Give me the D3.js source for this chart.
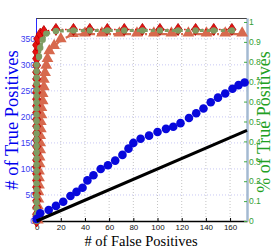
<!DOCTYPE html>
<html>
<head>
<meta charset="utf-8">
<script src="https://cdn.jsdelivr.net/npm/d3@7"></script>
<style>
  body { margin: 0; background: #fff; }
  svg { display: block; font-family: "Liberation Serif", "DejaVu Serif", serif; }
</style>
</head>
<body>
<div class="vis-chart"></div>
<script>
// axis ticks
const xTicks = [0, 20, 40, 60, 80, 100, 120, 140, 160]
const yTicks = [0, 50, 100, 150, 200, 250, 300, 350]
const pctTicks = [0, 0.1, 0.2, 0.3, 0.4, 0.5, 0.6, 0.7, 0.8, 0.9, 1]

// black diagonal (random guess)
const diagFP = [0, 174]
const diagTP = [0, 174]

// blue circles
const blueFP = [0, 3, 10, 16, 22, 28, 33, 38, 42, 47, 53, 59, 65, 71, 76, 80, 86, 93, 100, 107, 113, 119, 126, 132, 138, 144, 150, 156, 162, 167, 172]
const blueTP = [4, 15, 21, 29, 37, 48, 56, 64, 78, 88, 100, 107, 116, 127, 139, 150, 158, 164, 171, 177, 181, 188, 198, 207, 216, 228, 237, 245, 254, 261, 266]

// red diamonds, dotted
const redFP = [0, 0, 0, 0, 0, 0, 0, 0, 0, 0, 0, 0, 0, 0, 0, 0, 0, 0, 0, 0, 0, 0, 0, 0, 0, 0, 0, 1, 3, 6, 16, 30.5, 44, 58.5, 72.5, 87.5, 102, 117, 131.5, 146.5, 161.5]
const redTP = [0, 13, 26, 39, 52, 65, 78, 91, 104, 117, 130, 143, 156, 169, 182, 195, 208, 221, 234, 247, 260, 273, 286, 299, 312, 325, 338, 350, 359, 364, 368, 368, 368, 368, 368, 368, 368, 368, 368, 368, 368]

// green circles, dashed
const greenFP = [0, 0, 0, 0, 0, 0, 0, 0, 0, 0, 0, 0, 0, 0, 0, 0, 0, 0, 0, 0, 0, 0, 0, 0, 0, 0, 2, 3, 5, 8, 16, 30.5, 44, 58.5, 72.5, 87.5, 102, 117, 131.5, 146.5, 161.5]
const greenTP = [0, 12, 24, 36, 48, 60, 72, 84, 96, 108, 120, 132, 144, 156, 168, 180, 192, 204, 216, 228, 240, 252, 264, 276, 288, 300, 316, 333, 348, 360, 365, 366, 366, 366, 366, 366, 366, 366, 366, 366, 366]

// salmon triangles, dash-dot
const triFP = [1, 1, 1, 1.5, 1.5, 2, 2, 2, 2.5, 2.5, 3, 3, 3, 3.5, 3.5, 4, 4, 5, 5, 6, 6, 7, 8, 9, 10.5, 14.5, 20, 30, 40, 54, 68.5, 83, 97, 111.5, 125.5, 140.5, 156, 170]
const triTP = [0, 13, 27, 40, 54, 67, 81, 94, 108, 121, 135, 148, 162, 175, 189, 202, 216, 229, 243, 256, 270, 283, 297, 310, 325, 335, 348, 358, 359, 359, 359, 359, 359, 359, 359, 359, 359, 359]

const W = 274, H = 249
const plot = { left: 36, right: 247, top: 18, bottom: 221 }

const svg = d3.select('.vis-chart').append('svg')
    .attr('width', W)
    .attr('height', H)

const xScale = d3.scaleLinear().domain([-0.5, 174]).range([plot.left, plot.right])
const yScale = d3.scaleLinear().domain([0, 390]).range([plot.bottom, plot.top])
const pScale = d3.scaleLinear().domain([0, 1.02]).range([plot.bottom, plot.top])

/* grid */
svg.append('g').selectAll('line')
    .data(xTicks.filter(d => d > 0))
    .enter().append('line')
    .attr('x1', d => xScale(d)).attr('x2', d => xScale(d))
    .attr('y1', plot.top).attr('y2', plot.bottom)
    .attr('stroke', '#c4c4c4')
    .attr('stroke-dasharray', '1,2')

svg.append('g').selectAll('line')
    .data(yTicks.filter(d => d > 0))
    .enter().append('line')
    .attr('x1', plot.left).attr('x2', plot.right)
    .attr('y1', d => yScale(d)).attr('y2', d => yScale(d))
    .attr('stroke', '#c8c8f4')
    .attr('stroke-dasharray', '1,2')

// top border
svg.append('line')
    .attr('x1', plot.left).attr('x2', plot.right)
    .attr('y1', plot.top + 0.5).attr('y2', plot.top + 0.5)
    .attr('stroke', '#444').attr('stroke-width', 1.2)

/* axes */
const xAxis = svg.append('g')
    .attr('transform', 'translate(0,' + plot.bottom + ')')
    .call(d3.axisBottom(xScale).tickValues(xTicks).tickSize(-3).tickPadding(3).tickSizeOuter(0))
xAxis.select('.domain').attr('stroke', '#000').attr('stroke-width', 1.6)
xAxis.selectAll('text').attr('fill', '#111').style('font-size', '8px')

const yAxis = svg.append('g')
    .attr('transform', 'translate(' + plot.left + ',0)')
    .call(d3.axisLeft(yScale).tickValues(yTicks).tickSize(-3).tickPadding(1).tickSizeOuter(0))
yAxis.select('.domain').attr('stroke', '#2a2aff')
yAxis.selectAll('.tick line').attr('stroke', '#2a2aff')
yAxis.selectAll('text').attr('fill', '#3a3af0').style('font-size', '8.5px')

const pAxis = svg.append('g')
    .attr('transform', 'translate(' + plot.right + ',0)')
    .call(d3.axisRight(pScale).tickValues(pctTicks).tickSize(-3).tickPadding(2).tickSizeOuter(0)
        .tickFormat(d3.format('~g')))
pAxis.select('.domain').attr('stroke', '#a4bad2').attr('stroke-width', 2.5)
pAxis.selectAll('.tick line').attr('stroke', '#44aa44')
pAxis.selectAll('text').attr('fill', '#33a033').style('font-size', '8.5px')

/* series */
const line = d3.line().x(d => xScale(d[0])).y(d => yScale(d[1]))
const zip = (a, b) => a.map((v, i) => [v, b[i]])

// triangles
const triPts = zip(triFP, triTP)
svg.append('path').datum(triPts)
    .attr('d', line).attr('fill', 'none')
    .attr('stroke', '#d7694e').attr('stroke-width', 2.2)
    .attr('stroke-dasharray', '6,2,2,2')
svg.append('g').selectAll('path')
    .data(triPts).enter().append('path')
    .attr('d', d3.symbol(d3.symbolTriangle, 60))
    .attr('transform', d => 'translate(' + xScale(d[0]) + ',' + (yScale(d[1]) - 1) + ')')
    .attr('fill', '#d7694e')

// diamonds
const redPts = zip(redFP, redTP)
svg.append('path').datum(redPts)
    .attr('d', line).attr('fill', 'none')
    .attr('stroke', '#e00000').attr('stroke-width', 1.6)
    .attr('stroke-dasharray', '1.5,2')
svg.append('g').selectAll('path')
    .data(redPts).enter().append('path')
    .attr('d', 'M0,-6L4,0L0,6L-4,0Z')
    .attr('transform', d => 'translate(' + xScale(d[0]) + ',' + yScale(d[1]) + ')')
    .attr('fill', '#e81010').attr('stroke', '#b00000').attr('stroke-width', 0.8)

// green circles
const greenPts = zip(greenFP, greenTP)
svg.append('path').datum(greenPts)
    .attr('d', line).attr('fill', 'none')
    .attr('stroke', '#7f9c62').attr('stroke-width', 3.2)
    .attr('stroke-dasharray', '4,3')
svg.append('g').selectAll('circle')
    .data(greenPts).enter().append('circle')
    .attr('cx', d => xScale(d[0])).attr('cy', d => yScale(d[1]))
    .attr('r', 3.2)
    .attr('fill', '#7f9c62')

// blue circles
svg.append('g').selectAll('circle')
    .data(zip(blueFP, blueTP)).enter().append('circle')
    .attr('cx', d => xScale(d[0])).attr('cy', d => yScale(d[1]))
    .attr('r', 4.3)
    .attr('fill', '#0808dc')

// diagonal
svg.append('path').datum(zip(diagFP, diagTP))
    .attr('d', line).attr('fill', 'none')
    .attr('stroke', '#000').attr('stroke-width', 3)

/* titles */
svg.append('text')
    .attr('text-anchor', 'middle')
    .attr('transform', 'translate(18,120)rotate(-90)')
    .attr('fill', '#0000ee')
    .style('font-size', '18.5px')
    .text('# of True Positives')

svg.append('text')
    .attr('text-anchor', 'middle')
    .attr('transform', 'translate(269.5,122)rotate(-90)')
    .attr('fill', '#22a022')
    .style('font-size', '18px')
    .text('% of True Positives')

svg.append('text')
    .attr('text-anchor', 'middle')
    .attr('x', 141).attr('y', 246)
    .attr('fill', '#000')
    .style('font-size', '14.5px')
    .text('# of False Positives')
</script>
</body>
</html>
